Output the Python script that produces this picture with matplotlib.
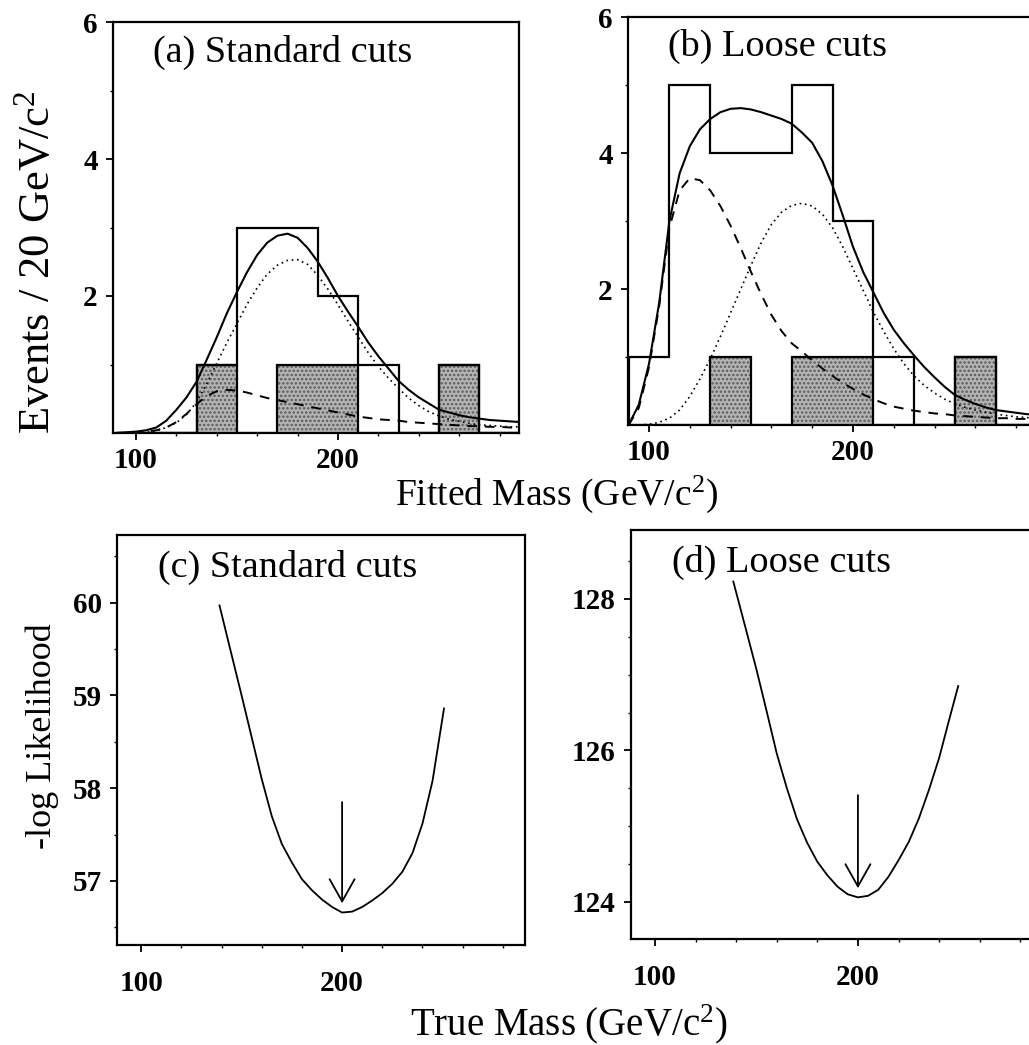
import numpy as np
import matplotlib
matplotlib.use("Agg")
import matplotlib.pyplot as plt
from matplotlib.ticker import FixedLocator

plt.rcParams['font.family'] = ['Liberation Serif', 'DejaVu Serif']
plt.rcParams['mathtext.fontset'] = 'custom'
plt.rcParams['mathtext.rm'] = 'Liberation Serif'
plt.rcParams['mathtext.it'] = 'Liberation Serif:italic'
plt.rcParams['mathtext.default'] = 'regular'
plt.rcParams['hatch.linewidth'] = 1.2

# ---------------- data ----------------
bin_edges = [90, 110, 130, 150, 170, 190, 210, 230, 250, 270, 290]
# panel (a) standard cuts
counts_a_all = [0, 0, 1, 3, 3, 2, 1, 0, 1, 0]
counts_a_tag = [0, 0, 1, 0, 1, 1, 0, 0, 1, 0]
# panel (b) loose cuts
counts_b_all = [1, 5, 4, 4, 5, 3, 1, 0, 1, 0]
counts_b_tag = [0, 0, 1, 0, 1, 1, 0, 0, 1, 0]

mass_grid = np.arange(90, 291, 5)
fit_a_total = [0.0, 0.01, 0.02, 0.04, 0.08, 0.18, 0.34, 0.52, 0.75, 1.07, 1.40,
               1.75, 2.06, 2.35, 2.60, 2.78, 2.88, 2.91, 2.85, 2.70, 2.50, 2.26,
               2.00, 1.77, 1.55, 1.32, 1.12, 0.94, 0.76, 0.63, 0.52, 0.43, 0.34,
               0.30, 0.26, 0.23, 0.21, 0.19, 0.18, 0.17, 0.16]
fit_a_signal = [0.0, 0.0, 0.0, 0.01, 0.03, 0.08, 0.15, 0.27, 0.45, 0.72, 1.02,
                1.32, 1.60, 1.88, 2.12, 2.32, 2.45, 2.52, 2.53, 2.46, 2.30, 2.10,
                1.87, 1.63, 1.40, 1.17, 0.97, 0.80, 0.65, 0.51, 0.40, 0.31, 0.25,
                0.20, 0.17, 0.14, 0.12, 0.11, 0.10, 0.09, 0.09]
fit_a_bkg = [0.0, 0.0, 0.01, 0.02, 0.04, 0.08, 0.16, 0.28, 0.42, 0.54, 0.61,
             0.63, 0.62, 0.59, 0.55, 0.51, 0.48, 0.45, 0.42, 0.39, 0.36, 0.33,
             0.30, 0.27, 0.24, 0.22, 0.20, 0.19, 0.18, 0.16, 0.15, 0.14, 0.13,
             0.12, 0.11, 0.10, 0.10, 0.09, 0.09, 0.08, 0.08]

fit_b_total = [0.0, 0.30, 0.90, 1.80, 3.00, 3.70, 4.10, 4.35, 4.50, 4.60, 4.65,
               4.66, 4.64, 4.60, 4.55, 4.50, 4.43, 4.30, 4.15, 3.88, 3.52, 3.08,
               2.62, 2.25, 1.95, 1.65, 1.40, 1.20, 1.02, 0.85, 0.70, 0.56, 0.44,
               0.37, 0.31, 0.26, 0.22, 0.20, 0.18, 0.16, 0.15]
fit_b_signal = [0.0, 0.0, 0.01, 0.04, 0.10, 0.22, 0.42, 0.68, 0.97, 1.30, 1.65,
                2.00, 2.35, 2.68, 2.95, 3.13, 3.23, 3.26, 3.22, 3.10, 2.90, 2.62,
                2.30, 1.98, 1.66, 1.38, 1.12, 0.90, 0.72, 0.58, 0.47, 0.38, 0.31,
                0.26, 0.22, 0.19, 0.16, 0.14, 0.12, 0.11, 0.10]
fit_b_bkg = [0.0, 0.25, 0.85, 1.75, 2.90, 3.45, 3.63, 3.60, 3.45, 3.22, 2.93,
             2.60, 2.25, 1.92, 1.62, 1.38, 1.20, 1.08, 0.95, 0.83, 0.72, 0.62,
             0.53, 0.45, 0.38, 0.32, 0.27, 0.24, 0.21, 0.19, 0.17, 0.16, 0.14,
             0.13, 0.12, 0.11, 0.10, 0.10, 0.09, 0.09, 0.08]

true_mass_c = [139, 145, 150, 155, 160, 165, 170, 175, 180, 185, 190, 195, 200,
               205, 210, 215, 220, 225, 230, 235, 240, 245, 250.7]
nll_c = [59.97, 59.44, 59.00, 58.55, 58.10, 57.70, 57.40, 57.20, 57.02, 56.90,
         56.80, 56.72, 56.66, 56.67, 56.72, 56.79, 56.87, 56.97, 57.10, 57.30,
         57.62, 58.08, 58.86]
true_mass_d = [138.6, 145, 150, 155, 160, 165, 170, 175, 180, 185, 190, 195, 200,
               205, 210, 215, 220, 225, 230, 235, 240, 245, 249.4]
nll_d = [128.23, 127.58, 127.07, 126.52, 125.96, 125.50, 125.09, 124.78, 124.53,
         124.35, 124.20, 124.10, 124.06, 124.08, 124.16, 124.33, 124.55, 124.79,
         125.10, 125.48, 125.90, 126.41, 126.85]
arrow_c = (200, 57.85, 56.76)
arrow_d = (200, 125.41, 124.18)

titles = ['(a) Standard cuts', '(b) Loose cuts', '(c) Standard cuts', '(d) Loose cuts']

# ---------------- figure ----------------
W, H = 1029, 1045
fig = plt.figure(figsize=(W / 100, H / 100), dpi=100)

def rect(x0, y0, x1, y1):
    return [x0 / W, 1 - y1 / H, (x1 - x0) / W, (y1 - y0) / H]

ax_a = fig.add_axes(rect(113, 22, 519, 433))
ax_b = fig.add_axes(rect(628, 17, 1037, 425))
ax_c = fig.add_axes(rect(117, 535, 525, 945))
ax_d = fig.add_axes(rect(631, 530, 1040, 939))

TICKFS = 21

def style(ax, xlim, ylim, yt_major, yt_minor, xpad, ypad):
    ax.set_xlim(*xlim)
    ax.set_ylim(*ylim)
    ax.xaxis.set_major_locator(FixedLocator([100, 200]))
    ax.xaxis.set_minor_locator(FixedLocator([120, 140, 160, 180, 220, 240, 260, 280]))
    ax.yaxis.set_major_locator(FixedLocator(yt_major))
    ax.yaxis.set_minor_locator(FixedLocator(yt_minor))
    ax.tick_params(which='major', direction='out', length=5, width=1.3,
                   labelsize=TICKFS, top=False, right=False)
    ax.tick_params(which='minor', direction='out', length=2.5, width=1.0,
                   top=False, right=False)
    ax.tick_params(axis='x', which='major', pad=xpad)
    ax.tick_params(axis='y', which='major', pad=ypad)
    for lab in ax.get_xticklabels() + ax.get_yticklabels():
        lab.set_fontweight('bold')
    for sp in ax.spines.values():
        sp.set_linewidth(1.6)

def hist_panel(ax, all_counts, tag_counts, tot, sig, bkg):
    ax.stairs(tag_counts, bin_edges, fill=True, facecolor='#b4b4b4',
              edgecolor='#5a5a5a', hatch='....', lw=0, zorder=1)
    ax.stairs(tag_counts, bin_edges, fill=False, color='black', lw=1.6, zorder=2)
    ax.stairs(all_counts, bin_edges, fill=False, color='black', lw=1.6, zorder=2)
    ax.plot(mass_grid, bkg, color='black', lw=1.4, ls=(0, (5, 4)), zorder=3)
    ax.plot(mass_grid, sig, color='black', lw=1.2, ls=(0, (1, 2.2)), zorder=3)
    ax.plot(mass_grid, tot, color='black', lw=1.5, zorder=4)

hist_panel(ax_a, counts_a_all, counts_a_tag, fit_a_total, fit_a_signal, fit_a_bkg)
hist_panel(ax_b, counts_b_all, counts_b_tag, fit_b_total, fit_b_signal, fit_b_bkg)

style(ax_a, (88.6, 289.6), (0, 6.0), [2, 4, 6], [1, 3, 5], 5, 6)
style(ax_b, (89.7, 290.2), (0, 6.0), [2, 4, 6], [1, 3, 5], 5, 6)

ax_c.plot(true_mass_c, nll_c, color='black', lw=1.3)
ax_d.plot(true_mass_d, nll_d, color='black', lw=1.3)

for ax, (xa, y0, y1) in ((ax_c, arrow_c), (ax_d, arrow_d)):
    ax.annotate('', xy=(xa, y1), xytext=(xa, y0),
                arrowprops=dict(arrowstyle='->,head_length=0.8,head_width=0.45',
                                color='black', lw=1.3, mutation_scale=20,
                                shrinkA=0, shrinkB=0))

style(ax_c, (88, 291), (56.31, 60.73), [57, 58, 59, 60],
      [56.5, 57.5, 58.5, 59.5, 60.5], 13, 6)
style(ax_d, (88.2, 289.7), (123.51, 128.91), [124, 126, 128],
      [124.5, 125, 125.5, 126.5, 127, 127.5, 128.5], 13, 6)

TITLEFS = 27.5
for ax, t, (tx, ty) in zip((ax_a, ax_b, ax_c, ax_d), titles,
                           ((0.098, 0.903), (0.098, 0.904), (0.10, 0.898), (0.10, 0.897))):
    ax.text(tx, ty, t, transform=ax.transAxes, fontsize=TITLEFS,
            ha='left', va='baseline')

fig.text(38 / W, 1 - 262 / H, 'Events / 20 GeV/c$^{2}$', rotation=90,
         fontsize=32, ha='center', va='center')
fig.text(557 / W, 1 - 505 / H, 'Fitted Mass (GeV/c$^{2}$)',
         fontsize=27, ha='center', va='baseline')
fig.text(42 / W, 1 - 736 / H, '-log Likelihood', rotation=90,
         fontsize=26, ha='center', va='center')
fig.text(569 / W, 1 - 1035 / H, 'True Mass (GeV/c$^{2}$)',
         fontsize=28, ha='center', va='baseline')

fig.savefig('out.png', dpi=100)
